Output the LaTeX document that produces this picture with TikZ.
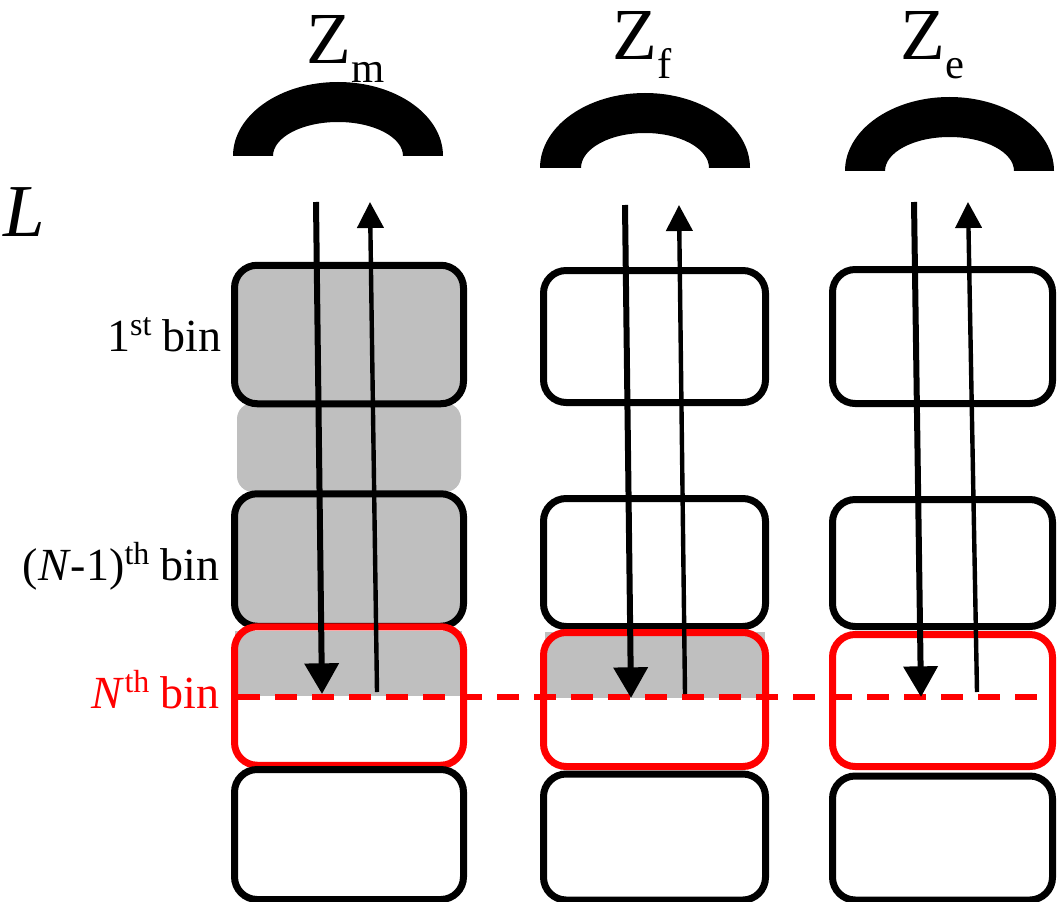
\documentclass[tikz,border=0pt]{standalone}
\usepackage{fontspec}
\setmainfont{Liberation Serif}
\usetikzlibrary{arrows.meta}
\definecolor{binred}{RGB}{255,0,0}
\definecolor{bingray}{RGB}{191,191,191}
\newcommand\supr[1]{\raisebox{11.5pt}{\fontsize{24}{26}\selectfont #1}}
\newcommand\subr[1]{\raisebox{-14pt}{\fontsize{32}{34}\selectfont #1}}
\tikzset{
  binbox/.style={draw=black, line width=5.25pt, rounded corners=17pt, inner sep=0pt, outer sep=0pt},
  redbox/.style={binbox, draw=binred},
  grayfill/.style={fill=bingray},
  binlabel/.style={anchor=base east, inner sep=0pt, font=\fontsize{34.5}{40}\selectfont},
  zlabel/.style={anchor=base west, inner sep=0pt, font=\fontsize{55}{60}\selectfont},
  headset/.style={fill=black},
  downarrow/.style={line width=4.5pt, -{Triangle[length=23pt, width=25pt]}},
  uparrow/.style={line width=3.3pt, -{Triangle[length=19.5pt, width=19.5pt]}},
  cutline/.style={draw=binred, line width=3.8pt, dash pattern=on 16.5pt off 11.25pt},
}
\begin{document}
\begin{tikzpicture}[x=0.75pt, y=-0.75pt]
\useasboundingbox (0,0) rectangle (1059,902);

% headsets
\fill[headset] (233,156) arc[start angle=180, end angle=360, x radius=105, y radius=74]
  -- (403,156) arc[start angle=360, end angle=180, x radius=65, y radius=34] -- cycle;
\fill[headset] (540,168) arc[start angle=180, end angle=360, x radius=105, y radius=75]
  -- (709,168) arc[start angle=360, end angle=180, x radius=64, y radius=35] -- cycle;
\fill[headset] (845,171) arc[start angle=180, end angle=360, x radius=104.5, y radius=74]
  -- (1014,171) arc[start angle=360, end angle=180, x radius=64.5, y radius=34] -- cycle;

% labels
\node[zlabel] (zm) at (306,64) {Z\subr{m}};
\node[zlabel] (zf) at (612,60) {Z\subr{f}};
\node[zlabel] (ze) at (900,60) {Z\subr{e}};
\node[zlabel, font=\fontsize{56}{60}\selectfont\itshape] (len) at (3,237) {L};

\node[binlabel] (lb1) at (222,351) {1\supr{st} bin};
\node[binlabel] (lb2) at (220,580) {(\textit{N}-1)\supr{th} bin};
\node[binlabel, text=binred] (lb3) at (220,708) {\textit{N}\supr{th} bin};

% left column
\fill[grayfill, rounded corners=12pt] (237,403) rectangle (461,492);
\node[binbox, grayfill, minimum width=171.75pt, minimum height=103.875pt] (m1) at (349,334.5) {};
\node[binbox, grayfill, minimum width=171.75pt, minimum height=99.375pt] (m2) at (349,560) {};
\fill[grayfill] (235,631) rectangle (462,696);
\node[redbox, minimum width=171.75pt, minimum height=103.875pt] (m3) at (349,696) {};
\node[binbox, minimum width=171.75pt, minimum height=97.5pt] (m4) at (349,834.5) {};

% middle column
\node[binbox, minimum width=166.5pt, minimum height=99pt] (f1) at (654.5,336.5) {};
\node[binbox, minimum width=166.5pt, minimum height=96pt] (f2) at (654.5,562.5) {};
\fill[grayfill] (545,632) rectangle (765,698);
\node[redbox, minimum width=166.5pt, minimum height=100.5pt] (f3) at (654.5,699.5) {};
\node[binbox, minimum width=166.5pt, minimum height=94.5pt] (f4) at (654.5,837) {};

% right column
\node[binbox, minimum width=165pt, minimum height=100.5pt] (e1) at (942.5,336.5) {};
\node[binbox, minimum width=165pt, minimum height=95.25pt] (e2) at (942.5,563) {};
\node[redbox, minimum width=165pt, minimum height=99pt] (e3) at (942.5,700.5) {};
\node[binbox, minimum width=165pt, minimum height=93pt] (e4) at (942.5,838) {};

% cut line
\coordinate (cl) at (238,697);
\coordinate (cr) at (1044,697);
\draw[cutline] (cl) -- (cr);

% arrows
\coordinate (md0) at (316,202);   \coordinate (md1) at (322,694);
\coordinate (mu0) at (377,692);   \coordinate (mu1) at (370,202);
\coordinate (fd0) at (625,205);   \coordinate (fd1) at (631,698);
\coordinate (fu0) at (685,694);   \coordinate (fu1) at (679,205);
\coordinate (ed0) at (914,202);   \coordinate (ed1) at (921,697);
\coordinate (eu0) at (977,692);   \coordinate (eu1) at (968,202);
\draw[downarrow] (md0) -- (md1);
\draw[uparrow] (mu0) -- (mu1);
\draw[downarrow] (fd0) -- (fd1);
\draw[uparrow] (fu0) -- (fu1);
\draw[downarrow] (ed0) -- (ed1);
\draw[uparrow] (eu0) -- (eu1);
\end{tikzpicture}
\end{document}
